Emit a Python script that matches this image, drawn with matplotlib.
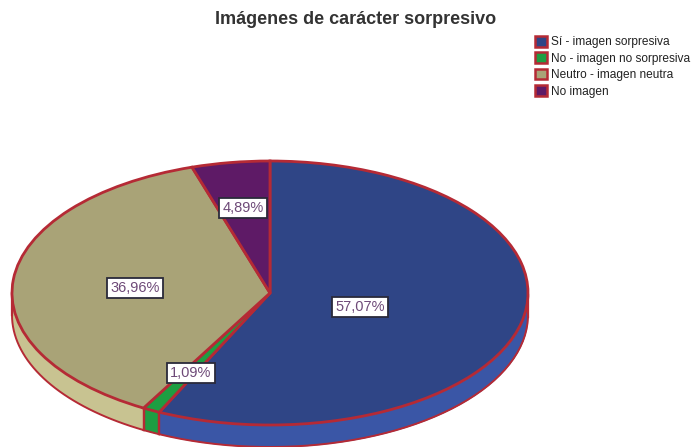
import matplotlib
matplotlib.use("Agg")
import matplotlib.pyplot as plt
from matplotlib.patches import Patch
import numpy as np

categorias = ["Sí - imagen sorpresiva", "No - imagen no sorpresiva", "Neutro - imagen neutra", "No imagen"]
valores = [57.07, 1.09, 36.96, 4.89]
etiquetas = ["57,07%", "1,09%", "36,96%", "4,89%"]
cores = ["#2F4586", "#1E9E42", "#A9A377", "#5E1A66"]
cores_lado = ["#3A56A6", "#1E9E42", "#C8C391", "#5E1A66"]
borda = "#B52A35"

plt.rcParams["font.family"] = ["Liberation Sans", "DejaVu Sans"]

W, H = 694, 447
cx, cy, rx, ry = 270, 293, 258, 132
prof = 22 / ry

fig = plt.figure(figsize=(W / 100, H / 100), dpi=100)
ax = fig.add_axes([0, 0, 1, 1])


def px(x, y):
    return (x - cx) / rx, (cy - y) / ry


# parede lateral do disco, so a metade de baixo aparece
fim = np.cumsum(valores) / np.sum(valores) * 2 * np.pi
ini = np.concatenate([[0], fim[:-1]])
for a, b, cor in zip(ini, fim, cores_lado):
    t = np.linspace(a, b, 80)
    x = np.sin(t)
    y = np.cos(t)
    vis = y <= 0.001
    if vis.sum() < 2:
        continue
    ax.fill_between(x[vis], y[vis], y[vis] - prof, color=cor, lw=0, zorder=1)
    ax.plot(x[vis], y[vis] - prof, color=borda, lw=1.4, zorder=2)
    for xb, yb in [(x[vis][0], y[vis][0]), (x[vis][-1], y[vis][-1])]:
        ax.plot([xb, xb], [yb, yb - prof], color=borda, lw=1.6, zorder=2)

fatias, _ = ax.pie(valores, colors=cores, startangle=90, counterclock=False, radius=1,
                   wedgeprops={"edgecolor": borda, "linewidth": 2.0, "zorder": 3})

ax.set_aspect("auto")
ax.set_xlim(-cx / rx, (W - cx) / rx)
ax.set_ylim((cy - H) / ry, cy / ry)
ax.axis("off")

# posicoes das etiquetas em pixels da imagem
pos = [(360, 307), (191, 373), (135, 288), (243, 208)]
for (xp, yp), txt in zip(pos, etiquetas):
    xd, yd = px(xp, yp)
    ax.text(xd, yd, txt, ha="center", va="center", fontsize=10.5, color="#6E4A78", zorder=5,
            bbox={"facecolor": "white", "edgecolor": "#2A2A3A", "linewidth": 1.3,
                  "boxstyle": "square,pad=0.2"})

fig.text(356 / W, 1 - 20 / H, "Imágenes de carácter sorpresivo", ha="center", va="center",
         fontsize=13, fontweight="bold", color="#333333")

itens = [Patch(facecolor=c, edgecolor=borda, linewidth=1.8, label=n) for c, n in zip(cores, categorias)]
fig.legend(handles=itens, loc="upper left", bbox_to_anchor=(535 / W, 1 - 36 / H), frameon=False,
           fontsize=8.6, handlelength=1.0, handleheight=1.0, handletextpad=0.3,
           labelspacing=0.33, borderpad=0, borderaxespad=0, labelcolor="#222222")

fig.savefig("out.png", dpi=100)
